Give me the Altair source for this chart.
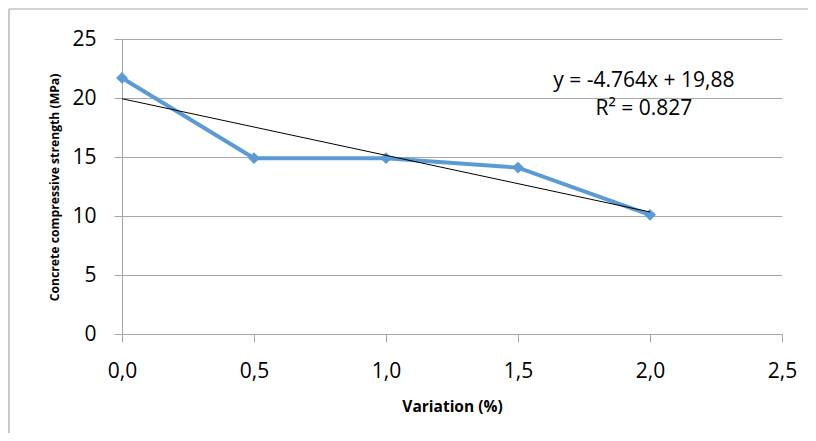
import altair as alt
import pandas as pd

variation = [0.0, 0.5, 1.0, 1.5, 2.0]
strength = [21.7, 14.9, 14.9, 14.1, 10.1]

x_ticks = [0.0, 0.5, 1.0, 1.5, 2.0, 2.5]
y_ticks = [0, 5, 10, 15, 20, 25]

eq_lines = ["y = -4.764x + 19,88", "R\u00b2 = 0.827"]
eq_x = [1.977, 1.977]
eq_y = [20.97, 18.52]

FONT = "Open Sans"
GRID = "#a6a6a6"
BLUE = "#5b9bd5"

df = pd.DataFrame({"x": variation, "y": strength})
eq_df = pd.DataFrame({"t": eq_lines, "x": eq_x, "y": eq_y})

xscale = alt.Scale(domain=[0, 2.5], nice=False)
yscale = alt.Scale(domain=[0, 25], nice=False)

xaxis = alt.Axis(
    values=x_ticks, grid=False, domainColor=GRID, tickColor=GRID, tickSize=8,
    labelExpr="replace(format(datum.value, '.1f'), '.', ',')",
    labelFont=FONT, labelFontSize=21, labelColor="#000000",
    labelBaseline="alphabetic", labelPadding=35, labelFlush=False,
    title="Variation (%)", titleFont=FONT, titleFontSize=15.5, titleFontWeight="bold",
    titleColor="#000000", titleX=330, titleY=77, titleBaseline="alphabetic",
    titleAlign="center",
)
yaxis = alt.Axis(
    values=y_ticks, grid=True, gridColor=GRID, domainColor=GRID, tickColor=GRID,
    tickSize=8, labelFont=FONT, labelFontSize=21, labelColor="#000000",
    labelPadding=18,
    title="Concrete compressive strength (MPa)", titleFont=FONT, titleFontSize=12.2,
    titleFontWeight="bold", titleColor="#000000", titleX=-68, titleY=148,
    titleAngle=-90, titleAlign="center", titleBaseline="middle",
)

frame = pd.DataFrame({"a": [0]})
border_top = alt.Chart(frame).mark_rule(color=GRID, strokeWidth=1.2).encode(
    x=alt.value(-113), x2=alt.value(720), y=alt.value(-30)
)
border_left = alt.Chart(frame).mark_rule(color=GRID, strokeWidth=1.2).encode(
    x=alt.value(-113), y=alt.value(-30), y2=alt.value(420)
)

base = alt.Chart(df)
line = base.mark_line(color=BLUE, strokeWidth=4).encode(
    x=alt.X("x:Q", scale=xscale, axis=xaxis),
    y=alt.Y("y:Q", scale=yscale, axis=yaxis),
)
points = base.mark_point(shape="diamond", filled=True, color=BLUE, size=140, opacity=1).encode(
    x=alt.X("x:Q", scale=xscale), y=alt.Y("y:Q", scale=yscale)
)
trend = base.transform_regression("x", "y", extent=[0, 2]).mark_line(
    color="#000000", strokeWidth=1
).encode(x=alt.X("x:Q", scale=xscale), y=alt.Y("y:Q", scale=yscale))

eq = alt.Chart(eq_df).mark_text(
    font=FONT, fontSize=21, color="#000000", baseline="alphabetic", align="center"
).encode(x=alt.X("x:Q", scale=xscale), y=alt.Y("y:Q", scale=yscale), text="t:N")

chart = alt.layer(border_top, border_left, line, points, trend, eq).properties(
    width=660, height=295,
    autosize=alt.AutoSizeParams(type="none"),
    padding={"left": 114, "top": 31, "right": 26, "bottom": 99},
).configure_view(stroke=None)

chart.save("out.html", embed_options={"renderer": "svg", "actions": False})
